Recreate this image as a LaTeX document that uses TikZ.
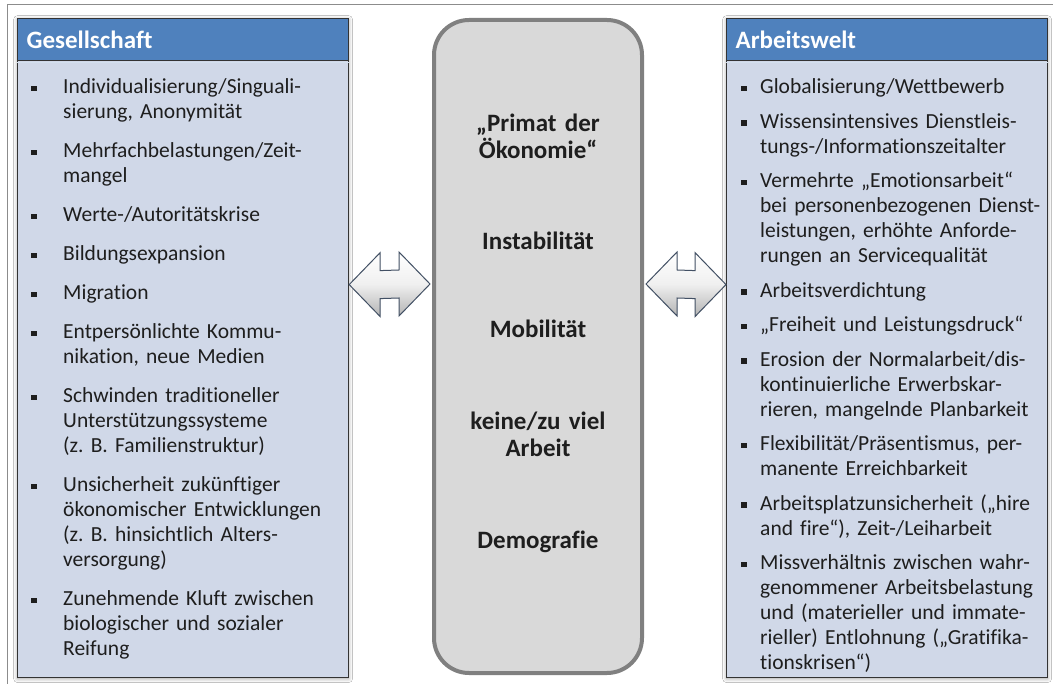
\documentclass[tikz,border=0pt]{standalone}
\usepackage{fontspec}
\setmainfont{Carlito}[Ligatures={TeX,NoCommon}]
\usetikzlibrary{calc,shadows.blur}

\definecolor{headblue}{RGB}{79,129,189}
\definecolor{bodyblue}{RGB}{208,216,232}
\definecolor{coregray}{RGB}{217,217,217}
\definecolor{coreline}{RGB}{128,128,128}
\definecolor{arrowline}{RGB}{66,80,100}
\definecolor{textdark}{RGB}{30,30,30}

\newlength{\bulind}
\newlength{\bulgap}
\newcommand{\bitem}[1]{\hangindent=\bulind\hangafter=1\noindent
  \makebox[\bulind][l]{\rule[2.5pt]{5.5pt}{5.5pt}}{\let\\\newline#1}\par\vspace{\bulgap}}
\newcommand{\dblarrow}[2]{%
  \path[block arrow] (#1) -- ++(31,-32) -- ++(0,18) -- ($(#2)+(-31,-14)$)
    -- ++(0,-18) -- (#2) -- ++(-31,32) -- ++(0,-18) -- ($(#1)+(31,14)$)
    -- ++(0,18) -- cycle;}

\begin{document}
\begin{tikzpicture}[
        x=1pt, y=-1pt,
        every node/.style={inner sep=0pt, text=textdark},
        panel/.style={draw=black!80, line width=1.2pt, fill=bodyblue,
            minimum width=#1, minimum height=659pt, anchor=north west,
            blur shadow={shadow xshift=0pt, shadow yshift=-1pt, shadow blur radius=4pt}},
        panel head/.style={draw=black!80, line width=1.2pt, fill=headblue,
            minimum width=#1, minimum height=42pt, anchor=north west,
            text width=#1-18pt, inner xsep=9pt, text=white,
            font=\bfseries\fontsize{25}{28}\selectfont},
        item list/.style={anchor=base west, text width=#1,
            font=\fontsize{21.5}{25}\selectfont},
        core/.style={draw=coreline, line width=4pt, fill=coregray,
            rounded corners=35pt, minimum width=208pt, minimum height=653pt},
        core label/.style={anchor=base, text width=200pt, align=center,
            font=\bfseries\fontsize{25}{27}\selectfont},
        block arrow/.style={draw=arrowline, line width=1pt, line join=miter,
            top color=white, bottom color=black!30, middle color=black!6}
    ]
    \useasboundingbox[fill=white] (0,0) rectangle (1053,684);
    \draw[black!45, line width=1pt] (7,690) |- (1060,5);
    % the two side panels
    \node[panel=331pt] (gs) at (17,18) {};
    \node[panel head=331pt] (gshead) at (gs.north west) {Gesellschaft};
    \node[panel=321pt] (aw) at (726,18) {};
    \node[panel head=321pt] (awhead) at (aw.north west) {Arbeitswelt};
    \draw[white!75!headblue, line width=1.5pt] ([yshift=-1.5pt]gshead.south west) -- ([yshift=-1.5pt]gshead.south east);
    \draw[white!75!headblue, line width=1.5pt] ([yshift=-1.5pt]awhead.south west) -- ([yshift=-1.5pt]awhead.south east);
    % lists
    \node[item list=312pt] (gslist) at (31,94) {\rightskip=0pt plus 3em%
        \setlength{\bulind}{32pt}\setlength{\bulgap}{14pt}%
        \bitem{Individualisierung/Singuali-\\sierung, Anonymität}
        \bitem{Mehrfachbelastungen/Zeit-\\mangel}
        \bitem{Werte-/Autoritätskrise}
        \bitem{Bildungsexpansion}
        \bitem{Migration}
        \bitem{Entpersönlichte Kommu-\\nikation, neue Medien}
        \bitem{Schwinden traditioneller\\Unterstützungssysteme\\(z.~B. Familienstruktur)}
        \bitem{Unsicherheit zukünftiger\\ökonomischer Entwicklungen\\(z.~B. hinsichtlich Alters-\\versorgung)}
        \bitem{Zunehmende Kluft zwischen\\biologischer und sozialer\\Reifung}};
    \node[item list=302pt] (awlist) at (741,94) {\rightskip=0pt plus 3em%
        \setlength{\bulind}{19pt}\setlength{\bulgap}{9.5pt}%
        \bitem{Globalisierung/Wettbewerb}
        \bitem{Wissensintensives Dienstleis-\\tungs-/Informationszeitalter}
        \bitem{Vermehrte „Emotionsarbeit“\\bei personenbezogenen Dienst-\\leistungen, erhöhte Anforde-\\rungen an Servicequalität}
        \bitem{Arbeitsverdichtung}
        \bitem{„Freiheit und Leistungsdruck“}
        \bitem{Erosion der Normalarbeit/dis-\\kontinuierliche Erwerbskar-\\rieren, mangelnde Planbarkeit}
        \bitem{Flexibilität/Präsentismus, per-\\manente Erreichbarkeit}
        \bitem{Arbeitsplatzunsicherheit („hire\\and fire“), Zeit-/Leiharbeit}
        \bitem{Missverhältnis zwischen wahr-\\genommener Arbeitsbelastung\\und (materieller und immate-\\rieller) Entlohnung („Gratifika-\\tionskrisen“)}};
    % middle column
    \node[core] (mid) at (538,346.5) {};
    \foreach \ypos/\txt [count=\i] in {
        132/{„Primat der\\Ökonomie“},
        250/{Instabilität},
        338/{Mobilität},
        430/{keine/zu viel\\Arbeit},
        548/{Demografie}}
        \node[core label] (c\i) at (538,\ypos) {\txt};
    % arrows between the columns
    \coordinate (la) at ([yshift=63.5pt]gs.east);
    \coordinate (lb) at ([xshift=-2pt, yshift=62.5pt]mid.west);
    \coordinate (ra) at ([xshift=2pt, yshift=62.5pt]mid.east);
    \coordinate (rb) at ([yshift=63.5pt]aw.west);
    \dblarrow{la}{lb}
    \dblarrow{ra}{rb}
\end{tikzpicture}
\end{document}
